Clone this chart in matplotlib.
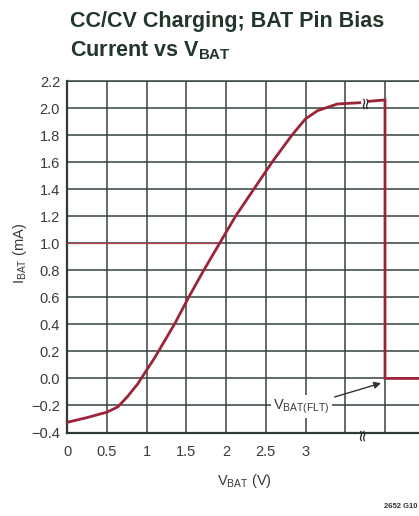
import matplotlib
matplotlib.use("Agg")
import matplotlib.pyplot as plt
from matplotlib import font_manager

# Curve data: BAT pin current (mA) versus BAT voltage (V)
vbat_cc = [0.0, 0.25, 0.5, 0.64, 0.76, 0.89, 1.0, 1.1, 1.2, 1.36, 1.53,
           1.72, 1.92, 2.12, 2.35, 2.58, 2.83, 3.0, 3.15, 3.4, 3.7]
ibat_cc = [-0.325, -0.29, -0.25, -0.21, -0.135, -0.04, 0.06, 0.15, 0.25,
           0.41, 0.6, 0.8, 1.0, 1.2, 1.4, 1.6, 1.8, 1.92, 1.98, 2.03, 2.04]
# Segment after the axis break: float voltage, then drop to zero
vbat_flt = [3.8, 4.0, 4.0, 4.5]
ibat_flt = [2.05, 2.06, 0.0, 0.0]

x_ticks = [0, 0.5, 1, 1.5, 2, 2.5, 3, 3.5, 4, 4.5]
x_labels = ["0", "0.5", "1", "1.5", "2", "2.5", "3", "", "", ""]
y_ticks = [-0.4, -0.2, 0.0, 0.2, 0.4, 0.6, 0.8, 1.0, 1.2, 1.4, 1.6, 1.8, 2.0, 2.2]
y_labels = ["\u22120.4", "\u22120.2", "0.0", "0.2", "0.4", "0.6", "0.8", "1.0",
            "1.2", "1.4", "1.6", "1.8", "2.0", "2.2"]

available = {f.name for f in font_manager.fontManager.ttflist}
narrow = "Liberation Sans Narrow" if "Liberation Sans Narrow" in available else "Liberation Sans"
plt.rcParams["font.family"] = [narrow, "DejaVu Sans"]
plt.rcParams["mathtext.default"] = "regular"

curve_color = "#9c2438"
grid_color = "#36423d"
text_color = "#3a3a3a"

W, H = 419, 516
fig = plt.figure(figsize=(W / 100, H / 100), dpi=100)
fig.patch.set_facecolor("white")

left, bottom, top = 67, 432.5, 81
px_per_unit = 79.5
ax = fig.add_axes([left / W, 1 - bottom / H, 4.5 * px_per_unit / W, (bottom - top) / H])
ax.set_xlim(0, 4.5)
ax.set_ylim(-0.4, 2.2)

ax.set_xticks(x_ticks)
ax.set_xticklabels(x_labels)
ax.set_yticks(y_ticks)
ax.set_yticklabels(y_labels)
ax.tick_params(axis="both", length=0, labelsize=10.5, colors=text_color)
ax.tick_params(axis="x", pad=9)
ax.tick_params(axis="y", pad=5)
ax.grid(True, color=grid_color, linewidth=1.1)
ax.set_axisbelow(True)
for side in ("left", "bottom"):
    ax.spines[side].set_color("#2f3a35")
    ax.spines[side].set_linewidth(1.6)
ax.spines["top"].set_color(grid_color)
ax.spines["top"].set_linewidth(1.1)
ax.spines["right"].set_visible(False)

# thin red reference line at 1.0 mA up to the curve
ax.plot([0, 1.92], [1.0, 1.0], color="#b04050", linewidth=0.9, zorder=3)

ax.plot(vbat_cc, ibat_cc, color=curve_color, linewidth=2.0,
        solid_capstyle="butt", solid_joinstyle="round", zorder=4)
ax.plot(vbat_flt, ibat_flt, color=curve_color, linewidth=2.0,
        solid_joinstyle="miter", zorder=4, clip_on=False)

# axis-break marks on the curve and on the x axis
for bx, by in ((3.75, 2.045), (3.71, -0.41)):
    ax.text(bx, by, "\u2248", rotation=90, ha="center", va="center",
            fontsize=12, color="#2a2a2a", family="DejaVu Sans", zorder=6,
            clip_on=False)

ax.annotate("V$_{BAT(FLT)}$", xy=(3.95, -0.035), xytext=(2.95, -0.21),
            ha="center", va="center", fontsize=10.5, color=text_color,
            bbox=dict(boxstyle="square,pad=0.15", fc="white", ec="none"),
            arrowprops=dict(arrowstyle="-|>", color="#333333", lw=1.0,
                            mutation_scale=10, shrinkA=2, shrinkB=0),
            zorder=5)

fig.text(70 / W, 1 - 27 / H, "CC/CV Charging; BAT Pin Bias", ha="left",
         va="baseline", fontsize=15.5, fontweight="bold", color="#22372b")
fig.text(70 / W, 1 - 56 / H, "Current vs V$_{BAT}$", ha="left",
         va="baseline", fontsize=15.5, fontweight="bold", color="#22372b")

fig.text(20 / W, 1 - 253 / H, "I$_{BAT}$ (mA)", rotation=90, ha="center",
         va="center", fontsize=10.5, color=text_color)
fig.text(244 / W, 1 - 481 / H, "V$_{BAT}$ (V)", ha="center", va="center",
         fontsize=10.5, color=text_color)
fig.text(417 / W, 1 - 506 / H, "2652 G10", ha="right", va="center",
         fontsize=5.5, fontweight="bold", color="#333333")

fig.savefig("out.png", dpi=100, facecolor="white")
